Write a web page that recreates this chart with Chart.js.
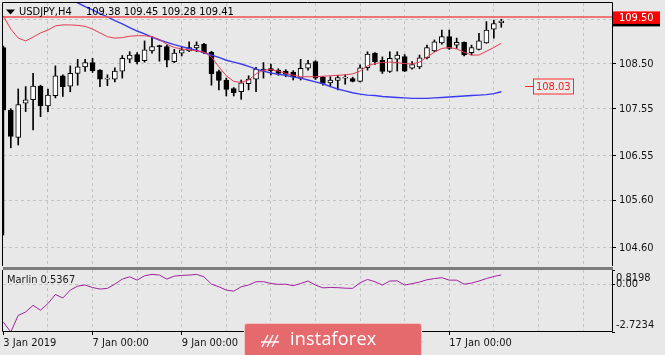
<!DOCTYPE html>
<html>
<head>
<meta charset="utf-8">
<script src="https://cdn.jsdelivr.net/npm/chart.js@4.4.1/dist/chart.umd.min.js"></script>
<style>
html,body{margin:0;padding:0;background:#e8e8e8;}
#wrap{position:relative;width:665px;height:355px;overflow:hidden;background:#e8e8e8;}
canvas{position:absolute;left:0;}
#c1{top:0;}
#c2{top:268px;}
#sep{position:absolute;left:3px;top:267px;width:610px;height:3px;background:#7c7c7c;}
#wm{position:absolute;left:244px;top:323px;width:178px;height:40px;background:#e46a6e;border:1px solid rgba(255,255,255,0.6);border-radius:3px;box-sizing:border-box;}
#wm span{position:absolute;left:45px;top:5px;color:#fff;font-family:'Open Sans',sans-serif;font-size:18px;line-height:18px;letter-spacing:0.2px;}
#wm svg{position:absolute;left:14px;top:6px;}
</style>
</head>
<body>
<div id="wrap">
  <canvas id="c1" width="665" height="268" style="width:665px;height:268px"></canvas>
  <canvas id="c2" width="665" height="87" style="width:665px;height:87px"></canvas>
  <div id="sep"></div>
  <div id="wm"><svg width="24" height="22" viewBox="0 0 24 22"><g fill="none" stroke="#fff" stroke-width="1.6" opacity="0.9"><path d="M3 17 L9 5"/><path d="M8 17 L14 5"/><path d="M13 17 L19 5"/><path d="M2 12 H20"/></g></svg><span>instaforex</span></div>
</div>
<script>
// ---------------- DATA ----------------
const openP  = [108.85,107.52,106.94,107.67,107.74,108.03,107.61,107.83,108.25,108.03,108.30,108.44,108.53,108.37,108.18,108.18,108.35,108.60,108.70,108.57,108.78,108.89,108.87,108.55,108.73,108.78,108.84,108.92,108.75,108.34,108.16,107.98,107.91,108.08,108.18,108.39,108.40,108.37,108.35,108.33,108.20,108.41,108.55,108.22,108.10,108.15,108.20,108.19,108.13,108.42,108.73,108.58,108.34,108.60,108.66,108.41,108.44,108.63,108.78,108.95,109.08,108.90,108.96,108.74,108.81,108.95,109.24,109.38];
const highP  = [108.88,107.55,107.97,108.02,108.30,108.05,107.97,108.46,108.27,108.46,108.60,108.60,108.62,108.38,108.27,108.42,108.68,108.76,108.74,108.99,109.08,108.90,108.90,108.81,108.87,108.97,108.97,108.94,108.77,108.37,108.20,108.00,108.16,108.25,108.43,108.53,108.50,108.40,108.38,108.36,108.60,108.58,108.57,108.24,108.23,108.26,108.27,108.22,108.48,108.76,108.74,108.65,108.76,108.76,108.70,108.55,108.69,108.90,109.01,109.22,109.22,109.05,108.97,108.90,109.15,109.40,109.43,109.45];
const lowP   = [104.87,106.72,106.78,107.49,107.10,107.38,107.49,107.78,107.81,107.91,108.05,108.34,108.32,108.02,108.04,108.12,108.20,108.53,108.50,108.54,108.73,108.56,108.44,108.53,108.67,108.76,108.76,108.72,108.05,107.95,107.82,107.82,107.75,107.95,107.91,108.20,108.27,108.26,108.23,108.16,108.16,108.37,108.17,108.05,108.03,107.95,108.07,108.12,108.12,108.37,108.49,108.30,108.32,108.35,108.34,108.39,108.40,108.61,108.76,108.92,108.81,108.83,108.67,108.69,108.80,108.94,109.05,109.28];
const closeP = [107.52,106.96,107.64,107.74,108.03,107.61,107.84,108.25,108.02,108.30,108.44,108.53,108.36,108.18,108.20,108.35,108.62,108.69,108.55,108.80,108.87,108.87,108.58,108.73,108.80,108.85,108.90,108.74,108.29,108.15,107.96,107.89,108.10,108.18,108.39,108.37,108.36,108.30,108.28,108.23,108.41,108.51,108.20,108.09,108.16,108.21,108.22,108.13,108.42,108.71,108.55,108.34,108.62,108.69,108.35,108.49,108.63,108.85,108.97,109.08,108.83,108.96,108.69,108.85,108.99,109.22,109.36,109.41];
const maRed  = [109.52,109.24,109.05,108.99,109.07,109.16,109.22,109.31,109.33,109.33,109.32,109.30,109.24,109.16,109.08,109.05,109.06,109.09,109.10,109.10,109.08,109.02,108.92,108.85,108.82,108.80,108.78,108.75,108.65,108.44,108.25,108.13,108.11,108.16,108.29,108.37,108.38,108.35,108.30,108.26,108.23,108.23,108.23,108.24,108.25,108.26,108.27,108.29,108.35,108.46,108.51,108.53,108.54,108.53,108.51,108.50,108.54,108.65,108.75,108.83,108.85,108.82,108.75,108.69,108.69,108.77,108.85,108.94];
const maBlue = [null,null,null,null,null,null,null,109.99,109.95,109.87,109.80,109.72,109.65,109.57,109.50,109.42,109.35,109.27,109.20,109.14,109.07,109.01,108.96,108.91,108.87,108.83,108.79,108.74,108.69,108.64,108.58,108.54,108.50,108.45,108.39,108.35,108.31,108.28,108.26,108.22,108.20,108.16,108.12,108.08,108.02,107.97,107.93,107.89,107.86,107.84,107.83,107.81,107.80,107.79,107.78,107.77,107.77,107.77,107.78,107.79,107.80,107.81,107.82,107.83,107.84,107.85,107.87,107.91];
const marlin = [-2.16,-2.7234,-1.77,-1.58,-1.20,-1.48,-1.10,-0.58,-0.78,-0.33,-0.10,-0.04,-0.18,-0.27,-0.23,0.01,0.30,0.43,0.24,0.49,0.57,0.53,0.30,0.47,0.51,0.53,0.57,0.43,0.01,-0.14,-0.33,-0.39,-0.14,-0.04,0.15,0.15,0.05,0.00,0.01,-0.08,0.05,0.19,-0.04,-0.20,-0.18,-0.19,-0.22,-0.23,0.09,0.28,0.15,-0.04,0.19,0.20,-0.04,0.04,0.13,0.26,0.33,0.38,0.24,0.24,0.01,0.07,0.19,0.33,0.45,0.5367];

const priceTicks = [104.60, 105.60, 106.55, 107.55, 108.50, 109.45];
const priceTickLabels = ['104.60','105.60','106.55','107.55','108.50','109.45'];
const marlinTicks = [0.8198, 0, -2.7234];
const marlinTickLabels = ['0.8198','0.00','-2.7234'];
const xTickBars = [0, 12, 24, 36, 48, 60];
const xTickLabels = ['3 Jan 2019','7 Jan 00:00','9 Jan 00:00','11 Jan 00:00','15 Jan 00:00','17 Jan 00:00'];
const gridBars = [0,6,12,18,24,30,36,42,48,54,60,66,72,78];
const levelPrice = 109.50, levelLabel = '109.50';
const markerPrice = 108.03, markerLabel = '108.03';
const titleSymbol = 'USDJPY,H4';
const titleOHLC = '109.38 109.45 109.28 109.41';
const indicatorLabel = 'Marlin 0.5367';

// ---------------- STYLE ----------------
const FONT = "'DejaVu Sans Condensed','DejaVu Sans',sans-serif";
const TXT = '#141414';
const GRID = '#c3c3c3';
const X_MIN = -0.05, X_MAX = 81.9;
const P_MIN = 104.211, P_MAX = 109.795;
const M_MAX = marlinTicks[0], M_MIN = marlinTicks[2];

Chart.defaults.font.family = FONT;
Chart.defaults.font.size = 11;
Chart.defaults.color = TXT;

const idx = openP.map((_, i) => i);

function xScale(showLabels) {
  return {
    type: 'linear', min: X_MIN, max: X_MAX, offset: false,
    afterBuildTicks: s => { s.ticks = gridBars.map(v => ({ value: v })); },
    ticks: {
      display: showLabels, autoSkip: false, maxRotation: 0, minRotation: 0,
      align: 'start', padding: 2, color: TXT, font: { size: 11, family: FONT },
      callback: v => { const k = xTickBars.indexOf(v); return k >= 0 ? xTickLabels[k] : ''; }
    },
    grid: {
      offset: false,
      color: c => (c.tick && c.tick.value === 0) ? 'rgba(0,0,0,0)' : GRID,
      lineWidth: 1, drawTicks: showLabels, tickLength: 3, tickWidth: 1,
      tickColor: c => (c.tick && xTickBars.includes(c.tick.value)) ? '#000' : 'rgba(0,0,0,0)'
    },
    border: { display: false, dash: [3, 3] },
    afterFit: s => { s.height = showLabels ? 23 : 2; s.paddingLeft = 0; s.paddingRight = 0; }
  };
}

function txt(ctx, s, x, y, color, align) {
  ctx.save();
  ctx.font = '11px ' + FONT;
  ctx.fillStyle = color; ctx.textAlign = align || 'left'; ctx.textBaseline = 'middle';
  ctx.fillText(s, x, y);
  ctx.restore();
}

const mainOverlay = {
  id: 'mainOverlay',
  afterDraw(chart) {
    const { ctx, chartArea: a } = chart;
    const ys = chart.scales.y;
    // frame
    ctx.save();
    ctx.strokeStyle = '#000'; ctx.lineWidth = 1;
    ctx.beginPath();
    ctx.moveTo(a.left - 0.5, a.bottom); ctx.lineTo(a.left - 0.5, a.top - 0.5);
    ctx.lineTo(a.right + 0.5, a.top - 0.5); ctx.lineTo(a.right + 0.5, a.bottom);
    ctx.stroke();
    // level line
    const ly = ys.getPixelForValue(levelPrice);
    ctx.strokeStyle = '#f04e52'; ctx.lineWidth = 1.5;
    ctx.beginPath(); ctx.moveTo(a.left, ly); ctx.lineTo(a.right, ly); ctx.stroke();
    // marker 108.03
    const my = Math.round(ys.getPixelForValue(markerPrice)) + 0.5;
    ctx.strokeStyle = '#ff2a2a'; ctx.lineWidth = 1;
    ctx.beginPath(); ctx.moveTo(525, my); ctx.lineTo(533, my); ctx.stroke();
    ctx.fillStyle = '#ebebeb';
    ctx.fillRect(533.5, my - 7.5, 40, 15);
    ctx.strokeRect(533.5, my - 7.5, 40, 15);
    ctx.restore();
    txt(ctx, markerLabel, 536, my + 0.5, '#ff1a1a');
    // right level label
    ctx.save();
    ctx.fillStyle = '#000'; ctx.fillRect(613, ly - 3, 47, 12.5);
    ctx.fillStyle = '#ff0000'; ctx.fillRect(613, ly - 5.5, 47, 12.5);
    ctx.restore();
    txt(ctx, levelLabel, 619, ly + 1, '#ffffff');
    // title
    ctx.save();
    ctx.fillStyle = '#000';
    ctx.beginPath(); ctx.moveTo(6, 9.5); ctx.lineTo(15, 9.5); ctx.lineTo(10.5, 14.5); ctx.closePath(); ctx.fill();
    ctx.restore();
    txt(ctx, titleSymbol, 19, 12.5, '#000');
    txt(ctx, titleOHLC, 86, 12.5, '#000');
  }
};

new Chart(document.getElementById('c1'), {
  type: 'bar',
  data: {
    datasets: [
      { type: 'line', label: 'MA red', data: idx.map(i => ({ x: i, y: maRed[i] })),
        borderColor: '#e83a55', borderWidth: 1, pointRadius: 0, tension: 0 },
      { type: 'line', label: 'MA blue', data: idx.map(i => ({ x: i, y: maBlue[i] })),
        borderColor: '#3b3bef', borderWidth: 1.4, pointRadius: 0, tension: 0 },
      { type: 'bar', label: 'body', data: idx.map(i => ({ x: i, y: [openP[i], closeP[i]] })),
        backgroundColor: c => { const i = c.dataIndex; if (i === undefined) return '#fff'; return closeP[i] >= openP[i] ? '#ffffff' : '#000000'; },
        borderColor: '#000', borderWidth: 1, borderSkipped: false, barThickness: 5, grouped: false },
      { type: 'bar', label: 'wick', data: idx.map(i => ({ x: i, y: [lowP[i], highP[i]] })),
        backgroundColor: '#000', borderWidth: 0, barThickness: 1, grouped: false }
    ]
  },
  options: {
    responsive: false, animation: false, devicePixelRatio: 1, events: [],
    layout: { padding: { left: 3, top: 3, right: 0, bottom: 0 } },
    plugins: { legend: { display: false }, tooltip: { enabled: false }, title: { display: false } },
    scales: {
      x: xScale(false),
      y: {
        type: 'linear', position: 'right', min: P_MIN, max: P_MAX, beginAtZero: false,
        afterBuildTicks: s => { s.ticks = priceTicks.map(v => ({ value: v })); },
        ticks: { autoSkip: false, padding: 3, color: TXT, font: { size: 11, family: FONT },
          callback: (v, i) => priceTickLabels[i] },
        grid: { color: GRID, lineWidth: 1, drawTicks: true, tickLength: 4, tickColor: '#000', offset: false },
        border: { display: false, dash: [3, 3] },
        afterFit: s => { s.width = 53; s.paddingTop = 0; s.paddingBottom = 0; }
      }
    }
  },
  plugins: [mainOverlay]
});

const subOverlay = {
  id: 'subOverlay',
  afterDraw(chart) {
    const { ctx, chartArea: a } = chart;
    const ys = chart.scales.y;
    ctx.save();
    ctx.strokeStyle = '#000'; ctx.lineWidth = 1;
    ctx.beginPath();
    ctx.moveTo(a.left - 0.5, a.top); ctx.lineTo(a.left - 0.5, a.bottom - 0.5);
    ctx.lineTo(a.right + 0.5, a.bottom - 0.5); ctx.lineTo(a.right + 0.5, a.top);
    ctx.stroke();
    ctx.restore();
    const shift = [8.3, 0, -6.8];
    marlinTicks.forEach((v, k) => {
      txt(ctx, marlinTickLabels[k], 616, ys.getPixelForValue(v) + shift[k], TXT);
    });
    txt(ctx, indicatorLabel, 7, 12, '#1a1a1a');
  }
};

new Chart(document.getElementById('c2'), {
  type: 'line',
  data: {
    datasets: [
      { label: 'Marlin', data: idx.map(i => ({ x: i, y: marlin[i] })),
        borderColor: '#a0219f', borderWidth: 1, pointRadius: 0, tension: 0 }
    ]
  },
  options: {
    responsive: false, animation: false, devicePixelRatio: 1, events: [],
    layout: { padding: { left: 3, top: 2, right: 0, bottom: 0 } },
    plugins: { legend: { display: false }, tooltip: { enabled: false } },
    scales: {
      x: xScale(true),
      y: {
        type: 'linear', position: 'right', min: M_MIN, max: M_MAX,
        afterBuildTicks: s => { s.ticks = marlinTicks.map(v => ({ value: v })); },
        ticks: { display: false },
        grid: { color: c => (c.tick && c.tick.value === 0) ? GRID : 'rgba(0,0,0,0)',
                drawTicks: true, tickLength: 3, tickColor: '#000', offset: false },
        border: { display: false, dash: [3, 3] },
        afterFit: s => { s.width = 53; s.paddingTop = 0; s.paddingBottom = 0; }
      }
    }
  },
  plugins: [subOverlay]
});
</script>
</body>
</html>
